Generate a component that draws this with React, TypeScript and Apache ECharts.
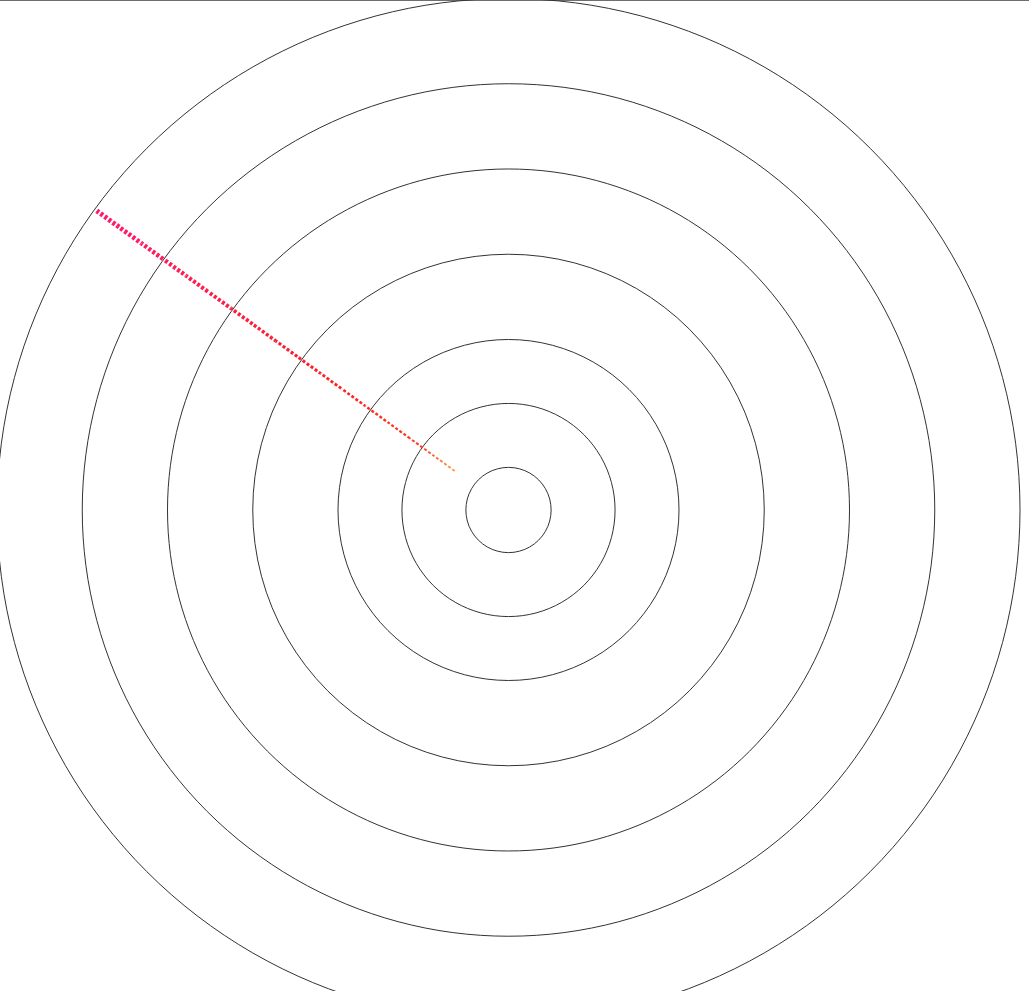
import React, { useEffect, useRef } from "react";
import * as echarts from "echarts";

// Radius values of the concentric rings (radius axis units)
const ringValues = [0.5, 1.25, 2, 3, 4, 5, 6];
const radiusMin = 0;
const radiusMax = 6;

// Radial dashed ray: start radius, end radius, angle (degrees, clockwise from top)
const rayStart = [0.78];
const rayEnd = [5.97];
const rayAngle = [306];

const rayColors = ["#ff9a48", "#ff3a24", "#ff1f22", "#ff1c45", "#ff1a6e"];
const rayOffsets = [0, 0.1, 0.35, 0.65, 1];

export default function App() {
  const ref = useRef<HTMLDivElement>(null);

  useEffect(() => {
    if (!ref.current) return;
    const chart = echarts.init(ref.current, undefined, { renderer: "svg" });

    const rayData = rayStart.map((s, i) => [s, rayEnd[i], rayAngle[i]]);

    const option: any = {
      animation: false,
      backgroundColor: "#ffffff",
      polar: {
        center: [508.5, 510],
        radius: [0, 511.5],
      },
      angleAxis: {
        type: "value",
        min: 0,
        max: 360,
        startAngle: 90,
        clockwise: true,
        axisLine: { show: false },
        axisTick: { show: false },
        axisLabel: { show: false },
        splitLine: { show: false },
      },
      radiusAxis: {
        type: "value",
        min: radiusMin,
        max: radiusMax,
        axisLine: { show: false },
        axisTick: { show: false, customValues: ringValues },
        axisLabel: { show: false, customValues: ringValues },
        splitLine: { show: true, lineStyle: { color: "#333333", width: 1 } },
      },
      graphic: [
        {
          type: "line",
          shape: { x1: 0, y1: 0.5, x2: 1029, y2: 0.5 },
          style: { stroke: "#6e6e6e", lineWidth: 1 },
          silent: true,
        },
      ],
      series: [
        {
          type: "custom",
          coordinateSystem: "polar",
          data: rayData,
          encode: { radius: [0, 1], angle: 2 },
          renderItem: (params: any, api: any) => {
            const a = api.value(2);
            const p0 = api.coord([api.value(0), a]);
            const p1 = api.coord([api.value(1), a]);
            const dx = p1[0] - p0[0];
            const dy = p1[1] - p0[1];
            const len = Math.sqrt(dx * dx + dy * dy);
            const stops = rayColors.map((c, i) => ({
              offset: rayOffsets[i],
              color: c,
            }));
            const grad = new echarts.graphic.LinearGradient(
              p0[0],
              p0[1],
              p1[0],
              p1[1],
              stops,
              true
            );
            const n = 16;
            const period = 5;
            const children: any[] = [];
            for (let k = 0; k < n; k++) {
              const t0 = k / n;
              const t1 = (k + 1) / n;
              const tm = (t0 + t1) / 2;
              children.push({
                type: "line",
                shape: {
                  x1: p0[0] + dx * t0,
                  y1: p0[1] + dy * t0,
                  x2: p0[0] + dx * t1,
                  y2: p0[1] + dy * t1,
                },
                style: {
                  stroke: grad,
                  lineWidth: 1.7 + 3.3 * tm,
                  lineDash: [3, 2],
                  lineDashOffset: (len * t0) % period,
                },
              });
            }
            return { type: "group", children };
          },
          z: 5,
        },
      ],
    };

    chart.setOption(option);
    return () => chart.dispose();
  }, []);

  return (
    <div
      ref={ref}
      style={{
        position: "fixed",
        left: 0,
        top: 0,
        width: "1029px",
        height: "991px",
      }}
    />
  );
}
